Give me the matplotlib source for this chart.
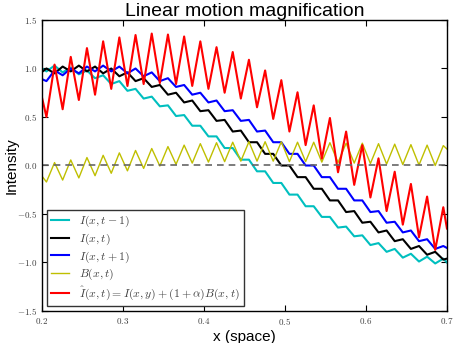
import matplotlib
matplotlib.use("Agg")
import matplotlib.pyplot as plt
from matplotlib.ticker import FuncFormatter

# sample positions: ends of the range plus every ripple peak / trough
x = [0.2, 0.2055, 0.2155, 0.2255, 0.2355, 0.2455, 0.2555, 0.2655, 0.2755, 0.2855,
     0.2955, 0.3055, 0.3155, 0.3255, 0.3355, 0.3455, 0.3555, 0.3655, 0.3755, 0.3855,
     0.3955, 0.4055, 0.4155, 0.4255, 0.4355, 0.4455, 0.4555, 0.4655, 0.4755, 0.4855,
     0.4955, 0.5055, 0.5155, 0.5255, 0.5355, 0.5455, 0.5555, 0.5655, 0.5755, 0.5855,
     0.5955, 0.6055, 0.6155, 0.6255, 0.6355, 0.6455, 0.6555, 0.6655, 0.6755, 0.6855,
     0.6955, 0.7]

i_prev = [1.00, 0.97, 1.03, 0.96, 1.01, 0.94, 0.98, 0.90, 0.93, 0.84,
          0.87, 0.77, 0.79, 0.69, 0.71, 0.61, 0.62, 0.51, 0.52, 0.41,
          0.41, 0.30, 0.30, 0.18, 0.18, 0.06, 0.06, -0.06, -0.06, -0.18,
          -0.18, -0.30, -0.30, -0.42, -0.42, -0.53, -0.53, -0.64, -0.63, -0.73,
          -0.72, -0.82, -0.80, -0.89, -0.86, -0.95, -0.91, -0.99, -0.94, -1.01,
          -0.96, -1.00]

i_now = [0.965, 1.00, 0.95, 1.02, 0.97, 1.03, 0.97, 1.02, 0.95, 1.00,
         0.92, 0.96, 0.87, 0.90, 0.81, 0.83, 0.73, 0.75, 0.65, 0.67,
         0.56, 0.57, 0.46, 0.47, 0.35, 0.36, 0.24, 0.24, 0.12, 0.12,
         0.00, 0.00, -0.12, -0.12, -0.24, -0.24, -0.36, -0.36, -0.48, -0.47,
         -0.59, -0.58, -0.69, -0.67, -0.78, -0.76, -0.86, -0.83, -0.92, -0.89,
         -0.97, -0.96]

i_next = [0.89, 0.87, 0.98, 0.93, 1.00, 0.95, 1.02, 0.97, 1.03, 0.97,
          1.02, 0.95, 1.00, 0.92, 0.96, 0.87, 0.90, 0.81, 0.83, 0.73,
          0.75, 0.65, 0.67, 0.56, 0.57, 0.46, 0.47, 0.35, 0.36, 0.24,
          0.24, 0.12, 0.12, 0.00, 0.00, -0.12, -0.12, -0.24, -0.24, -0.36,
          -0.36, -0.48, -0.47, -0.59, -0.58, -0.69, -0.67, -0.78, -0.76, -0.86,
          -0.83, -0.85]

b_xt = [-0.11, -0.17, 0.03, -0.15, 0.057, -0.128, 0.082, -0.105, 0.105, -0.08,
        0.13, -0.055, 0.155, -0.03, 0.175, -0.005, 0.195, 0.012, 0.21, 0.025,
        0.225, 0.035, 0.235, 0.04, 0.24, 0.045, 0.245, 0.045, 0.245, 0.045,
        0.245, 0.04, 0.24, 0.04, 0.24, 0.035, 0.235, 0.03, 0.23, 0.025,
        0.23, 0.02, 0.225, 0.015, 0.22, 0.01, 0.215, 0.005, 0.21, 0.0,
        0.205, 0.17]

i_mag = [0.70, 0.50, 1.04, 0.58, 1.12, 0.675, 1.21, 0.73, 1.28, 0.79,
         1.32, 0.82, 1.345, 0.84, 1.36, 0.85, 1.35, 0.84, 1.33, 0.82,
         1.28, 0.79, 1.22, 0.75, 1.17, 0.69, 1.09, 0.60, 0.98, 0.48,
         0.88, 0.35, 0.755, 0.21, 0.62, 0.07, 0.49, -0.07, 0.35, -0.20,
         0.21, -0.33, 0.074, -0.47, -0.064, -0.61, -0.19, -0.74, -0.32, -0.87,
         -0.43, -0.65]

labels = [r"$I(x,t-1)$", r"$I(x,t)$", r"$I(x,t+1)$", r"$B(x,t)$",
          r"$\hat{I}(x,t) = I(x,y) + (1+\alpha)B(x,t)$"]

plt.rcParams["mathtext.fontset"] = "cm"
plt.rcParams["font.family"] = ["Liberation Sans", "DejaVu Sans"]

fig = plt.figure(figsize=(4.57, 3.43), dpi=100)
ax = fig.add_axes([0.0919, 0.0933, 0.8861, 0.8484])

ax.plot(x, i_prev, color="c", lw=1.5, label=labels[0])
ax.plot(x, i_now, color="k", lw=1.5, label=labels[1])
ax.plot(x, i_next, color="b", lw=1.5, label=labels[2])
ax.plot(x, b_xt, color="y", lw=1.0, label=labels[3])
ax.plot(x, i_mag, color="r", lw=1.5, label=labels[4])
ax.axhline(0, color="0.4", ls="--", lw=1.2, dashes=(4, 3))

ax.set_xlim(0.2, 0.7)
ax.set_ylim(-1.5, 1.5)
ax.set_xticks([0.2, 0.3, 0.4, 0.5, 0.6, 0.7])
ax.set_yticks([-1.5, -1.0, -0.5, 0.0, 0.5, 1.0, 1.5])
fmt = FuncFormatter(lambda v, p: "$%.1f$" % v)
ax.xaxis.set_major_formatter(fmt)
ax.yaxis.set_major_formatter(fmt)
ax.tick_params(direction="in", top=True, right=True, length=4, width=0.8,
               labelsize=6.5, colors="k", labelcolor="0.25")
for s in ax.spines.values():
    s.set_linewidth(1.0)

ax.set_title("Linear motion magnification", fontsize=14, pad=3)
ax.set_xlabel("x (space)", fontsize=11, labelpad=2)
ax.set_ylabel("Intensity", fontsize=11)
ax.yaxis.set_label_coords(-0.058, 0.5)

leg = ax.legend(loc="lower left", fontsize=8.5, handlelength=1.5, fancybox=False,
                framealpha=1, edgecolor="0.2", borderaxespad=0.4, labelspacing=0.2,
                borderpad=0.35, handletextpad=0.9)
leg.get_frame().set_linewidth(1.0)
for t in leg.get_texts():
    t.set_color("0.25")

fig.savefig("out.png", dpi=100)
